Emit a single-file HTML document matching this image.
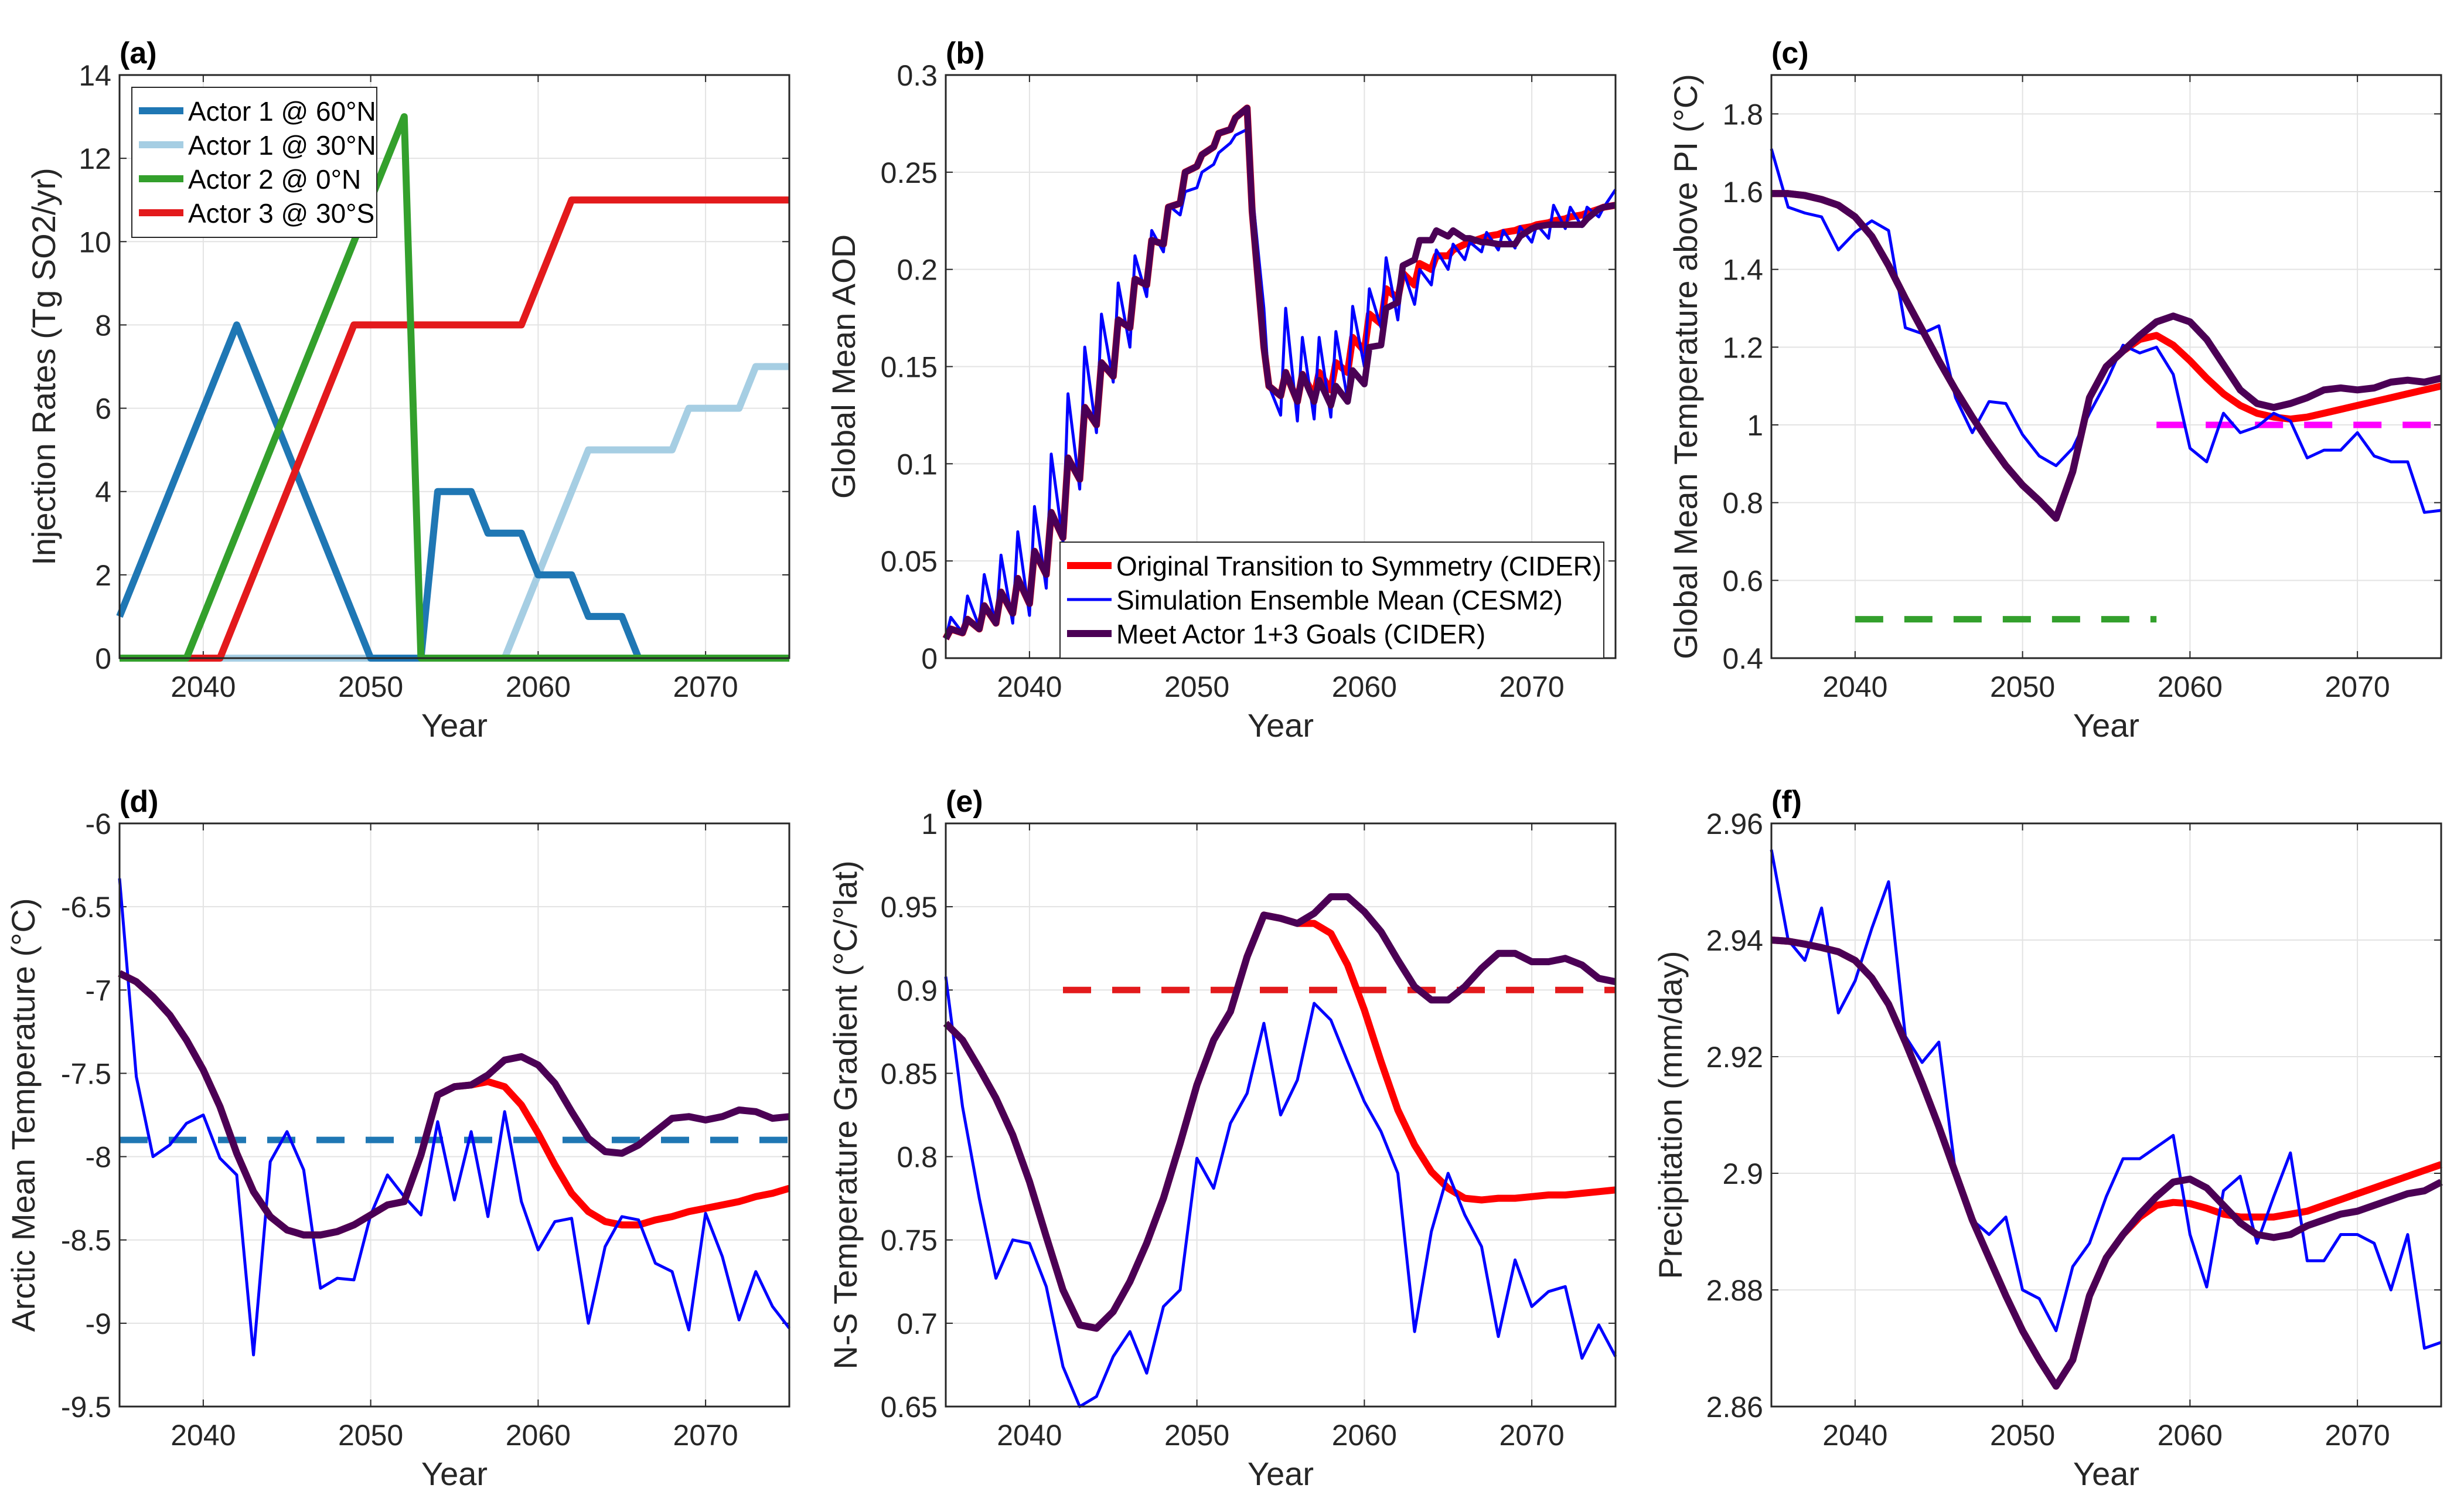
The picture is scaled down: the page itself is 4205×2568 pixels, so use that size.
<!DOCTYPE html>
<html><head><meta charset="utf-8">
<style>
html,body{margin:0;padding:0;background:#fff;}
svg{display:block;font-family:"Liberation Sans",Arial,sans-serif;}
</style></head>
<body>
<svg id="fig" width="4205" height="2568" viewBox="0 0 4205 2568" xmlns="http://www.w3.org/2000/svg"></svg>
<script>
// ---------- data ----------
const years = [];
for (let y = 2035; y <= 2075; y++) years.push(y);
const xTicks = [2040, 2050, 2060, 2070];
const xTickLabels = ["2040", "2050", "2060", "2070"];

// (a) injection rates
const a_actor1_60N = [1,2,3,4,5,6,7,8,7,6,5,4,3,2,1,0,0,0,0,4,4,4,3,3,3,2,2,2,1,1,1,0,0,0,0,0,0,0,0,0,0];
const a_actor1_30N = [0,0,0,0,0,0,0,0,0,0,0,0,0,0,0,0,0,0,0,0,0,0,0,0,1,2,3,4,5,5,5,5,5,5,6,6,6,6,7,7,7];
const a_actor2_0N  = [0,0,0,0,0,1,2,3,4,5,6,7,8,9,10,11,12,13,0,0,0,0,0,0,0,0,0,0,0,0,0,0,0,0,0,0,0,0,0,0,0];
const a_actor3_30S = [0,0,0,0,0,0,0,1,2,3,4,5,6,7,8,8,8,8,8,8,8,8,8,8,8,9,10,11,11,11,11,11,11,11,11,11,11,11,11,11,11];
const aYTicks = [0,2,4,6,8,10,12,14];

// (b) AOD: value at start of year (trough) and at year+0.3 (peak)
const b_blueTrough = [0.010,0.013,0.016,0.017,0.018,0.022,0.036,0.060,0.087,0.116,0.142,0.160,0.186,0.209,0.228,0.242,0.254,0.265,0.272,0.180,0.125,0.122,0.123,0.124,0.133,0.150,0.170,0.174,0.182,0.192,0.200,0.205,0.209,0.210,0.211,0.214,0.216,0.221,0.222,0.227,0.241];
const b_bluePeak   = [0.021,0.032,0.043,0.053,0.065,0.078,0.105,0.136,0.160,0.177,0.193,0.207,0.220,0.233,0.240,0.250,0.260,0.269,0.240,0.140,0.180,0.165,0.165,0.168,0.181,0.190,0.206,0.200,0.200,0.210,0.213,0.214,0.219,0.220,0.222,0.223,0.233,0.232,0.232,0.232];
const b_purpleTrough = [0.010,0.013,0.015,0.018,0.023,0.028,0.043,0.062,0.092,0.120,0.145,0.170,0.192,0.213,0.234,0.253,0.263,0.272,0.283,0.160,0.135,0.132,0.132,0.130,0.132,0.141,0.161,0.183,0.205,0.215,0.217,0.216,0.214,0.213,0.213,0.221,0.223,0.223,0.223,0.231,0.233];
const b_purplePeak   = [0.015,0.020,0.027,0.034,0.041,0.055,0.075,0.103,0.129,0.152,0.174,0.195,0.215,0.232,0.250,0.259,0.270,0.278,0.230,0.140,0.147,0.146,0.143,0.140,0.148,0.160,0.180,0.202,0.215,0.220,0.220,0.216,0.214,0.213,0.217,0.222,0.223,0.223,0.226,0.232];
const b_redTrough = [0.010,0.013,0.015,0.018,0.023,0.028,0.043,0.062,0.092,0.120,0.145,0.170,0.192,0.213,0.234,0.253,0.263,0.272,0.283,0.160,0.135,0.132,0.135,0.138,0.147,0.158,0.172,0.185,0.192,0.200,0.207,0.213,0.216,0.218,0.220,0.222,0.224,0.226,0.228,0.231,0.233];
const b_redPeak   = [0.015,0.020,0.027,0.034,0.041,0.055,0.075,0.103,0.129,0.152,0.174,0.195,0.215,0.232,0.250,0.259,0.270,0.278,0.230,0.140,0.147,0.146,0.147,0.152,0.165,0.177,0.190,0.198,0.203,0.207,0.210,0.214,0.217,0.219,0.221,0.223,0.225,0.227,0.229,0.232];
const bYTicks = [0,0.05,0.1,0.15,0.2,0.25,0.3];
const bYTickLabels = ["0","0.05","0.1","0.15","0.2","0.25","0.3"];

// (c) global mean temperature
const c_blue = [1.71,1.56,1.545,1.535,1.45,1.495,1.525,1.50,1.25,1.235,1.255,1.07,0.98,1.06,1.055,0.975,0.92,0.895,0.94,1.03,1.11,1.205,1.185,1.20,1.13,0.94,0.905,1.03,0.98,0.995,1.03,1.01,0.915,0.935,0.935,0.98,0.92,0.905,0.905,0.775,0.78];
const c_purple = [1.595,1.595,1.59,1.58,1.565,1.535,1.485,1.41,1.325,1.245,1.165,1.09,1.02,0.955,0.895,0.845,0.805,0.76,0.88,1.07,1.15,1.19,1.23,1.265,1.28,1.265,1.22,1.155,1.09,1.055,1.045,1.055,1.07,1.09,1.095,1.09,1.095,1.11,1.115,1.11,1.12];
const c_red = [1.595,1.595,1.59,1.58,1.565,1.535,1.485,1.41,1.325,1.245,1.165,1.09,1.02,0.955,0.895,0.845,0.805,0.76,0.88,1.07,1.15,1.19,1.22,1.23,1.205,1.165,1.12,1.08,1.05,1.03,1.02,1.015,1.02,1.03,1.04,1.05,1.06,1.07,1.08,1.09,1.10];
const cYTicks = [0.4,0.6,0.8,1,1.2,1.4,1.6,1.8];
const cYTickLabels = ["0.4","0.6","0.8","1","1.2","1.4","1.6","1.8"];

// (d) arctic temperature
const d_blue = [-6.33,-7.52,-8.0,-7.93,-7.8,-7.75,-8.01,-8.11,-9.19,-8.03,-7.85,-8.08,-8.79,-8.73,-8.74,-8.35,-8.11,-8.24,-8.35,-7.79,-8.26,-7.85,-8.36,-7.73,-8.27,-8.56,-8.39,-8.37,-9.0,-8.54,-8.36,-8.38,-8.64,-8.69,-9.04,-8.34,-8.6,-8.98,-8.69,-8.9,-9.03];
const d_purple = [-6.9,-6.95,-7.04,-7.15,-7.3,-7.48,-7.7,-7.98,-8.21,-8.36,-8.44,-8.47,-8.47,-8.45,-8.41,-8.35,-8.29,-8.27,-7.99,-7.63,-7.58,-7.57,-7.51,-7.42,-7.4,-7.45,-7.56,-7.73,-7.89,-7.97,-7.98,-7.93,-7.85,-7.77,-7.76,-7.78,-7.76,-7.72,-7.73,-7.77,-7.76];
const d_red = [-6.9,-6.95,-7.04,-7.15,-7.3,-7.48,-7.7,-7.98,-8.21,-8.36,-8.44,-8.47,-8.47,-8.45,-8.41,-8.35,-8.29,-8.27,-7.99,-7.63,-7.58,-7.57,-7.55,-7.58,-7.69,-7.86,-8.05,-8.22,-8.33,-8.39,-8.41,-8.41,-8.38,-8.36,-8.33,-8.31,-8.29,-8.27,-8.24,-8.22,-8.19];
const dYTicks = [-9.5,-9,-8.5,-8,-7.5,-7,-6.5,-6];
const dYTickLabels = ["-9.5","-9","-8.5","-8","-7.5","-7","-6.5","-6"];

// (e) N-S gradient
const e_blue = [0.908,0.83,0.775,0.727,0.75,0.748,0.722,0.674,0.65,0.656,0.68,0.695,0.67,0.71,0.72,0.799,0.781,0.82,0.838,0.88,0.825,0.846,0.892,0.882,0.857,0.833,0.815,0.79,0.695,0.755,0.79,0.765,0.746,0.692,0.738,0.71,0.719,0.722,0.679,0.699,0.68];
const e_purple = [0.88,0.87,0.853,0.835,0.813,0.785,0.752,0.72,0.699,0.697,0.707,0.725,0.748,0.775,0.808,0.843,0.87,0.887,0.92,0.945,0.943,0.94,0.946,0.956,0.956,0.947,0.935,0.918,0.902,0.894,0.894,0.902,0.913,0.922,0.922,0.917,0.917,0.919,0.915,0.907,0.905];
const e_red = [0.88,0.87,0.853,0.835,0.813,0.785,0.752,0.72,0.699,0.697,0.707,0.725,0.748,0.775,0.808,0.843,0.87,0.887,0.92,0.945,0.943,0.94,0.94,0.934,0.915,0.888,0.857,0.828,0.807,0.791,0.781,0.775,0.774,0.775,0.775,0.776,0.777,0.777,0.778,0.779,0.78];
const eYTicks = [0.65,0.7,0.75,0.8,0.85,0.9,0.95,1];
const eYTickLabels = ["0.65","0.7","0.75","0.8","0.85","0.9","0.95","1"];

// (f) precipitation
const f_blue = [2.9555,2.94,2.9365,2.9455,2.9275,2.933,2.942,2.95,2.9235,2.919,2.9225,2.9,2.892,2.8895,2.8925,2.88,2.8785,2.873,2.884,2.888,2.896,2.9025,2.9025,2.9045,2.9065,2.8895,2.8805,2.897,2.8995,2.888,2.896,2.9035,2.885,2.885,2.8895,2.8895,2.888,2.88,2.8895,2.87,2.871];
const f_purple = [2.94,2.9398,2.9393,2.9387,2.938,2.9365,2.9335,2.929,2.9225,2.9155,2.908,2.9,2.892,2.8855,2.879,2.873,2.868,2.8635,2.868,2.879,2.8855,2.8895,2.893,2.896,2.8985,2.899,2.8975,2.8945,2.8915,2.8895,2.889,2.8895,2.891,2.892,2.893,2.8935,2.8945,2.8955,2.8965,2.897,2.8985];
const f_red = [2.94,2.9398,2.9393,2.9387,2.938,2.9365,2.9335,2.929,2.9225,2.9155,2.908,2.9,2.892,2.8855,2.879,2.873,2.868,2.8635,2.868,2.879,2.8855,2.8895,2.8925,2.8945,2.895,2.8948,2.894,2.893,2.8925,2.8925,2.8925,2.893,2.8935,2.8945,2.8955,2.8965,2.8975,2.8985,2.8995,2.9005,2.9015];
const fYTicks = [2.86,2.88,2.9,2.92,2.94,2.96];
const fYTickLabels = ["2.86","2.88","2.9","2.92","2.94","2.96"];

// ---------- drawing helpers ----------
const NS = "http://www.w3.org/2000/svg";
const svg = document.getElementById("fig");
function mk(tag, attrs, parent) {
  const e = document.createElementNS(NS, tag);
  for (const k in attrs) e.setAttribute(k, attrs[k]);
  (parent || svg).appendChild(e);
  return e;
}
const W = 1143, H = 995;
const COL = ["#1f77b4", "#a6cee3", "#33a02c", "#e31a1c"];
const RED = "#ff0000", BLUE = "#0000ff", PURPLE = "#4b0055";

function makePanel(name, left, top, ymin, ymax, yticks, ylabels, ylabel, letter, ylabelX) {
  const g = mk("g", {});
  
  
  const sx = v => left + (v - 2035) / 40 * W;
  const sy = v => top + H - (v - ymin) / (ymax - ymin) * H;
  for (const t of xTicks) {
    const l = mk("line", {x1: sx(t), x2: sx(t), y1: top, y2: top + H, stroke: "#e3e3e3", "stroke-width": 2}, g);
    
    
  }
  yticks.forEach(t => {
    const l = mk("line", {x1: left, x2: left + W, y1: sy(t), y2: sy(t), stroke: "#e3e3e3", "stroke-width": 2}, g);
    
    
  });
  xTicks.forEach((t, i) => {
    const tx = mk("text", {x: sx(t), y: top + H + 66, "font-size": 50, fill: "#262626", "text-anchor": "middle"}, g);
    tx.textContent = xTickLabels[i];
    
    
    mk("line", {x1: sx(t), x2: sx(t), y1: top + H, y2: top + H - 12, stroke: "#262626", "stroke-width": 2}, g);
    mk("line", {x1: sx(t), x2: sx(t), y1: top, y2: top + 12, stroke: "#262626", "stroke-width": 2}, g);
  });
  yticks.forEach((t, i) => {
    const tx = mk("text", {x: left - 14, y: sy(t) + 18, "font-size": 50, fill: "#262626", "text-anchor": "end"}, g);
    tx.textContent = ylabels[i];
    
    
    mk("line", {x1: left, x2: left + 12, y1: sy(t), y2: sy(t), stroke: "#262626", "stroke-width": 2}, g);
    mk("line", {x1: left + W, x2: left + W - 12, y1: sy(t), y2: sy(t), stroke: "#262626", "stroke-width": 2}, g);
  });
  const xl = mk("text", {x: left + W / 2, y: top + H + 134, "font-size": 56, fill: "#262626", "text-anchor": "middle"}, g);
  xl.textContent = "Year";
  
  
  const cy = top + H / 2;
  const yl = mk("text", {x: ylabelX, y: cy, "font-size": 56, fill: "#262626", "text-anchor": "middle", transform: `rotate(-90 ${ylabelX} ${cy})`}, g);
  yl.textContent = ylabel;
  
  
  const pl = mk("text", {x: left, y: top - 20, "font-size": 52, "font-weight": "bold", fill: "#000"}, g);
  pl.textContent = letter;
  
  
  const plot = mk("g", {}, g);
  const box = mk("rect", {x: left, y: top, width: W, height: H, fill: "none", stroke: "#262626", "stroke-width": 3}, g);
  
  
  return {g: plot, sx, sy, left, top};
}
function series(p, xs, ys, color, width, name, dash) {
  const pts = xs.map((x, i) => p.sx(x).toFixed(1) + "," + p.sy(ys[i]).toFixed(1)).join(" ");
  const a = {points: pts, fill: "none", stroke: color, "stroke-width": width, "stroke-linejoin": "round"};
  if (dash) a["stroke-dasharray"] = dash;
  const e = mk("polyline", a, p.g);
  
  
  return e;
}
function hline(p, x0, x1, v, color, name) {
  const e = mk("line", {x1: p.sx(x0), x2: p.sx(x1), y1: p.sy(v), y2: p.sy(v), stroke: color, "stroke-width": 11, "stroke-dasharray": "48 36"}, p.g);
  
  
}
function zig(trough, peak) {
  const xs = [], ys = [];
  for (let i = 0; i < trough.length; i++) {
    xs.push(2035 + i); ys.push(trough[i]);
    if (i < peak.length) { xs.push(2035 + i + 0.3); ys.push(peak[i]); }
  }
  return {xs, ys};
}
function legend(x, y, w, entries, name) {
  const g = mk("g", {});
  
  
  const h = entries.length * 58 + 24;
  mk("rect", {x, y, width: w, height: h, fill: "#fff", stroke: "#262626", "stroke-width": 2}, g);
  entries.forEach((en, i) => {
    const yy = y + 40 + i * 58;
    const ln = mk("line", {x1: x + 12, x2: x + 88, y1: yy, y2: yy, stroke: en[1], "stroke-width": en[2]}, g);
    
    
    const t = mk("text", {x: x + 96, y: yy + 17, "font-size": 46, fill: "#000"}, g);
    t.textContent = en[0];
    
    
  });
}

// ---------- panels ----------
const L1 = 204, L2 = 1614, L3 = 3023, T1 = 128, T2 = 1405;

const pa = makePanel("panel-a-injection", L1, T1, 0, 14, aYTicks, aYTicks.map(String), "Injection Rates (Tg SO2/yr)", "(a)", 94);
series(pa, years, a_actor1_30N, COL[1], 12, "line-actor1-30N");
series(pa, years, a_actor1_60N, COL[0], 12, "line-actor1-60N");
series(pa, years, a_actor3_30S, COL[3], 12, "line-actor3-30S");
series(pa, years, a_actor2_0N, COL[2], 12, "line-actor2-0N");
legend(225, 149, 418, [["Actor 1 @ 60°N", COL[0], 12], ["Actor 1 @ 30°N", COL[1], 12], ["Actor 2 @ 0°N", COL[2], 12], ["Actor 3 @ 30°S", COL[3], 12]], "legend-injection");

const pb = makePanel("panel-b-aod", L2, T1, 0, 0.3, bYTicks, bYTickLabels, "Global Mean AOD", "(b)", 1459);
let z = zig(b_redTrough, b_redPeak); series(pb, z.xs, z.ys, RED, 12, "line-original-transition");
z = zig(b_blueTrough, b_bluePeak); series(pb, z.xs, z.ys, BLUE, 5, "line-cesm2-mean");
z = zig(b_purpleTrough, b_purplePeak); series(pb, z.xs, z.ys, PURPLE, 11, "line-meet-goals");
legend(1809, 925, 928, [["Original Transition to Symmetry (CIDER)", RED, 12], ["Simulation Ensemble Mean (CESM2)", BLUE, 5], ["Meet Actor 1+3 Goals (CIDER)", PURPLE, 12]], "legend-scenarios");

const pc = makePanel("panel-c-global-temp", L3, T1, 0.4, 1.9, cYTicks, cYTickLabels, "Global Mean Temperature above PI (°C)", "(c)", 2896);
hline(pc, 2040, 2058, 0.5, "#33a02c", "target-actor2");
hline(pc, 2058, 2075, 1.0, "#ff00ff", "target-global");
series(pc, years, c_red, RED, 12, "line-original-transition");
series(pc, years, c_blue, BLUE, 5, "line-cesm2-mean");
series(pc, years, c_purple, PURPLE, 12, "line-meet-goals");

const pd = makePanel("panel-d-arctic-temp", L1, T2, -9.5, -6, dYTicks, dYTickLabels, "Arctic Mean Temperature (°C)", "(d)", 59);
hline(pd, 2035, 2075, -7.9, "#1f77b4", "target-actor1");
series(pd, years, d_red, RED, 12, "line-original-transition");
series(pd, years, d_blue, BLUE, 5, "line-cesm2-mean");
series(pd, years, d_purple, PURPLE, 12, "line-meet-goals");

const pe = makePanel("panel-e-gradient", L2, T2, 0.65, 1, eYTicks, eYTickLabels, "N-S Temperature Gradient (°C/°lat)", "(e)", 1462);
hline(pe, 2042, 2075, 0.9, "#e31a1c", "target-actor3");
series(pe, years, e_red, RED, 12, "line-original-transition");
series(pe, years, e_blue, BLUE, 5, "line-cesm2-mean");
series(pe, years, e_purple, PURPLE, 12, "line-meet-goals");

const pf = makePanel("panel-f-precip", L3, T2, 2.86, 2.96, fYTicks, fYTickLabels, "Precipitation (mm/day)", "(f)", 2870);
series(pf, years, f_red, RED, 12, "line-original-transition");
series(pf, years, f_blue, BLUE, 5, "line-cesm2-mean");
series(pf, years, f_purple, PURPLE, 12, "line-meet-goals");
</script>
</body></html>
